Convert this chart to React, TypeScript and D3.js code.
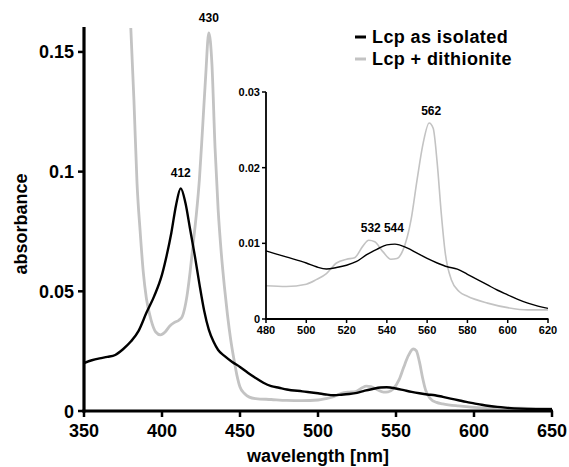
import React from "react";
import * as d3 from "d3";

// ---- data ----
const isolatedNm = [350,355,360,365,370,375,380,385,390,395,400,403,406,409,412,415,418,421,424,427,430,433,436,440,445,450,455,460,465,470,475,480,490,500,505,510,515,520,525,530,535,540,544,550,555,560,565,570,575,580,585,590,595,600,605,610,615,620,630,640,650];
const isolatedAbs = [0.0200,0.0212,0.0220,0.0226,0.0234,0.0258,0.0290,0.0335,0.0410,0.0480,0.0570,0.0650,0.0745,0.0860,0.0930,0.0870,0.0760,0.0650,0.0530,0.0420,0.0340,0.0290,0.0255,0.0230,0.0205,0.0184,0.0160,0.0138,0.0118,0.0104,0.0097,0.0090,0.0082,0.0074,0.0069,0.0066,0.0068,0.0071,0.0076,0.0085,0.0092,0.0098,0.0099,0.0094,0.0087,0.0080,0.0074,0.0069,0.0066,0.0059,0.0052,0.0045,0.0038,0.0032,0.0026,0.0021,0.0017,0.0014,0.0010,0.0008,0.0007];

const dithNm = [375,378,380,382,384,386,388,390,393,396,399,402,405,408,411,413,416,418,420,422,424,426,428,430,432,434,436,438,440,442,444,446,448,450,453,456,460,470,480,490,500,505,510,515,520,524,528,531,534,538,542,545,548,552,555,558,561,563,565,567,569,572,576,580,590,600,610,620,635,650];
const dithAbs = [0.210,0.185,0.160,0.130,0.095,0.075,0.058,0.047,0.038,0.033,0.0318,0.033,0.0355,0.0370,0.0380,0.0395,0.048,0.058,0.070,0.082,0.097,0.118,0.140,0.158,0.145,0.110,0.084,0.066,0.052,0.040,0.030,0.022,0.015,0.010,0.0072,0.0058,0.0052,0.0048,0.0044,0.0043,0.0046,0.0052,0.0060,0.0074,0.0079,0.0081,0.0096,0.0104,0.0102,0.0089,0.0079,0.0080,0.0091,0.0131,0.0184,0.0232,0.0259,0.0252,0.0206,0.0140,0.0087,0.0052,0.0036,0.0030,0.0021,0.0015,0.0012,0.0012,0.0011,0.0010];

const seriesNames = ["Lcp as isolated", "Lcp + dithionite"];
const mainXTicks = [350, 400, 450, 500, 550, 600, 650];
const mainYTicks = [0, 0.05, 0.1, 0.15];
const mainYLabels = ["0", "0.05", "0.1", "0.15"];
const insetXTicks = [480, 500, 520, 540, 560, 580, 600, 620];
const insetYTicks = [0, 0.01, 0.02, 0.03];
const insetYLabels = ["0", "0.01", "0.02", "0.03"];
const mainPeaks = [
  { nm: 412, abs: 0.093, label: "412" },
  { nm: 430, abs: 0.158, label: "430" },
];
const insetPeaks = [
  { nm: 532, abs: 0.0104, label: "532" },
  { nm: 544, abs: 0.0099, label: "544" },
  { nm: 562, abs: 0.0259, label: "562" },
];

const BLACK = "#000";
const GRAY = "#c3c3c3";
const FONT = "'Liberation Sans', Arial, sans-serif";

type P = [number, number];
const zip = (a: number[], b: number[]): P[] => a.map((v, i) => [v, b[i]]);

export default function App() {
  const x = d3.scaleLinear().domain([350, 650]).range([84, 552]);
  const y = d3.scaleLinear().domain([0, 0.16]).range([411, 28]);
  const xi = d3.scaleLinear().domain([480, 620]).range([266, 548]);
  const yi = d3.scaleLinear().domain([0, 0.03]).range([319, 92]);

  const iso = zip(isolatedNm, isolatedAbs);
  const dith = zip(dithNm, dithAbs);

  const mainLine = d3.line<P>().x(d => x(d[0])).y(d => y(d[1])).curve(d3.curveMonotoneX);
  const insetLine = d3.line<P>().x(d => xi(d[0])).y(d => yi(d[1])).curve(d3.curveMonotoneX);
  const inRange = (d: P) => d[0] >= 480 && d[0] <= 620;

  return (
    <svg width={569} height={467} style={{ position: "absolute", left: 0, top: 0, background: "#fff" }} fontFamily={FONT} fontWeight="bold">
      <defs>
        <clipPath id="mainClip">
          <rect x={84} y={y(0.16)} width={470} height={411 - y(0.16) + 2} />
        </clipPath>
      </defs>

      {/* main curves */}
      <g clipPath="url(#mainClip)" fill="none">
        <path d={mainLine(dith) || ""} stroke={GRAY} strokeWidth={2.8} />
        <path d={mainLine(iso) || ""} stroke={BLACK} strokeWidth={2.4} />
      </g>

      {/* main axes */}
      <line x1={84} x2={84} y1={y(0.16) - 1} y2={412.5} stroke={BLACK} strokeWidth={3.2} />
      <line x1={82.4} x2={x(650) + 1} y1={411} y2={411} stroke={BLACK} strokeWidth={3.2} />
      {mainYTicks.map((t, i) => (
        <g key={"yt" + i}>
          <line x1={78} x2={84} y1={y(t)} y2={y(t)} stroke={BLACK} strokeWidth={2.5} />
          <text x={74} y={y(t) + 6.5} textAnchor="end" fontSize={18}>{mainYLabels[i]}</text>
        </g>
      ))}
      {mainXTicks.map((t, i) => (
        <g key={"xt" + i}>
          <line x1={x(t)} x2={x(t)} y1={411} y2={417} stroke={BLACK} strokeWidth={2.5} />
          <text x={x(t)} y={437} textAnchor="middle" fontSize={18}>{t}</text>
        </g>
      ))}
      <text x={318} y={462} textAnchor="middle" fontSize={18}>wavelength [nm]</text>
      <text transform="translate(27,224) rotate(-90)" textAnchor="middle" fontSize={18}>absorbance</text>

      {mainPeaks.map((p, i) => (
        <text key={"mp" + i} x={x(p.nm)} y={y(p.abs) - 11} textAnchor="middle" fontSize={12}>{p.label}</text>
      ))}

      {/* legend */}
      <line x1={355} x2={366} y1={37} y2={37} stroke={BLACK} strokeWidth={3} />
      <text x={372} y={43} fontSize={18} letterSpacing={0.4}>{seriesNames[0]}</text>
      <line x1={355} x2={366} y1={59} y2={59} stroke={GRAY} strokeWidth={3} />
      <text x={372} y={65} fontSize={18} letterSpacing={0.4}>{seriesNames[1]}</text>

      {/* inset */}
      <g fill="none">
        <path d={insetLine(dith.filter(inRange)) || ""} stroke={GRAY} strokeWidth={1.6} />
        <path d={insetLine(iso.filter(inRange)) || ""} stroke={BLACK} strokeWidth={1.4} />
      </g>
      <line x1={266} x2={266} y1={yi(0.03)} y2={320} stroke={BLACK} strokeWidth={1.8} />
      <line x1={265} x2={xi(620) + 0.5} y1={319} y2={319} stroke={BLACK} strokeWidth={1.8} />
      {insetYTicks.map((t, i) => (
        <g key={"iy" + i}>
          <line x1={262} x2={266} y1={yi(t)} y2={yi(t)} stroke={BLACK} strokeWidth={1.5} />
          <text x={260} y={yi(t) + 4} textAnchor="end" fontSize={11}>{insetYLabels[i]}</text>
        </g>
      ))}
      {insetXTicks.map((t, i) => (
        <g key={"ix" + i}>
          <line x1={xi(t)} x2={xi(t)} y1={319} y2={323} stroke={BLACK} strokeWidth={1.5} />
          <text x={xi(t)} y={333.5} textAnchor="middle" fontSize={11}>{t}</text>
        </g>
      ))}
      {insetPeaks.map((p, i) => (
        <text key={"ip" + i} x={xi(p.nm) + (p.label === "544" ? -1 : 0)} y={yi(p.abs) - (p.label === "544" ? 12 : 8)} textAnchor="middle" fontSize={12}>{p.label}</text>
      ))}
    </svg>
  );
}
